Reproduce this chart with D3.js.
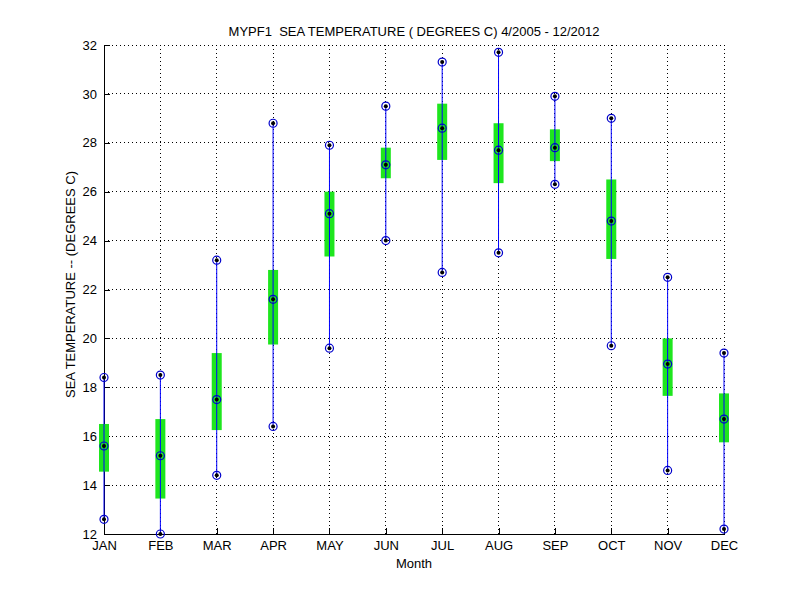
<!DOCTYPE html>
<html><head><meta charset="utf-8">
<script src="https://cdn.jsdelivr.net/npm/d3@7"></script>
<style>body{margin:0;background:#fff}svg{display:block}text{font-family:"Liberation Sans",Arial,sans-serif;white-space:pre;}</style>
</head><body>
<svg id="c" width="800" height="600"></svg>
<script>
const months = ["JAN","FEB","MAR","APR","MAY","JUN","JUL","AUG","SEP","OCT","NOV","DEC"];
const maxVals  = [18.4, 18.5, 23.2, 28.8, 27.9, 29.5, 31.3, 31.7, 29.9, 29.0, 22.5, 19.4];
const boxTop   = [16.5, 16.7, 19.4, 22.8, 26.0, 27.8, 29.6, 28.8, 28.55, 26.5, 20.0, 17.75];
const medians  = [15.6, 15.2, 17.5, 21.6, 25.1, 27.1, 28.6, 27.7, 27.8, 24.8, 18.95, 16.7];
const boxBot   = [14.55, 13.45, 16.25, 19.75, 23.35, 26.55, 27.3, 26.35, 27.25, 23.25, 17.65, 15.75];
const minVals  = [12.6, 12.0, 14.4, 16.4, 19.6, 24.0, 22.7, 23.5, 26.3, 19.7, 14.6, 12.2];
const yTicks = [12,14,16,18,20,22,24,26,28,30,32];

const svg = d3.select("#c");
const L=104, R=724, T=45, B=534;
const x = d3.scaleLinear().domain([1,12]).range([L,R]);
const y = d3.scaleLinear().domain([12,32]).range([B,T]);
const idx = months.map((m,i)=>i+1);
const FS = 13;

// grid
const g = svg.append("g");
g.selectAll(".gx").data(idx).join("line")
  .attr("x1",d=>x(d)).attr("x2",d=>x(d)).attr("y1",T).attr("y2",B)
  .attr("stroke","#000").attr("stroke-width",1).attr("stroke-dasharray","1,3").attr("shape-rendering","crispEdges");
g.selectAll(".gy").data(yTicks).join("line")
  .attr("x1",L).attr("x2",R).attr("y1",d=>y(d)).attr("y2",d=>y(d))
  .attr("stroke","#000").attr("stroke-width",1).attr("stroke-dasharray","1,3").attr("shape-rendering","crispEdges");

// axes
const ya = svg.append("g").attr("transform",`translate(${L},0)`)
  .call(d3.axisLeft(y).tickValues(yTicks).tickSizeInner(-6).tickSizeOuter(0).tickPadding(7));
const xa = svg.append("g").attr("transform",`translate(0,${B})`)
  .call(d3.axisBottom(x).tickValues(idx).tickFormat((d,i)=>months[i]).tickSizeInner(-6).tickSizeOuter(0).tickPadding(4));
[ya,xa].forEach(a=>{
  a.selectAll("text").attr("font-size",FS).attr("fill","#000").attr("font-family","Liberation Sans, Arial, sans-serif");
  a.select(".domain").attr("stroke","#000").attr("shape-rendering","crispEdges");
  a.selectAll(".tick line").attr("stroke","#000").attr("shape-rendering","crispEdges");
});
xa.selectAll("text").attr("dy","0.95em");

// data
const data = idx.map((d,i)=>({m:d,max:maxVals[i],hi:boxTop[i],med:medians[i],lo:boxBot[i],min:minVals[i]}));
const p = svg.append("g");
p.selectAll(".box").data(data).join("rect")
  .attr("x",d=>x(d.m)-5).attr("width",10)
  .attr("y",d=>y(d.hi)).attr("height",d=>y(d.lo)-y(d.hi))
  .attr("fill","#1ee61e");
p.selectAll(".wh").data(data).join("line")
  .attr("x1",d=>x(d.m)).attr("x2",d=>x(d.m))
  .attr("y1",d=>y(d.max)).attr("y2",d=>y(d.min))
  .attr("stroke","#0000ff").attr("stroke-width",1);
const pts = [];
data.forEach(d=>{pts.push({m:d.m,v:d.max});pts.push({m:d.m,v:d.med});pts.push({m:d.m,v:d.min});});
p.selectAll(".ci").data(pts).join("circle")
  .attr("cx",d=>x(d.m)).attr("cy",d=>y(d.v)).attr("r",4)
  .attr("fill","none").attr("stroke","#0000cc").attr("stroke-width",1.2);
p.selectAll(".dt").data(pts).join("circle")
  .attr("cx",d=>x(d.m)).attr("cy",d=>y(d.v)).attr("r",2)
  .attr("fill","#000");

// titles
svg.append("text").attr("x",(L+R)/2).attr("y",36).attr("text-anchor","middle")
  .attr("font-size",FS).attr("xml:space","preserve").text("MYPF1  SEA TEMPERATURE ( DEGREES C) 4/2005 - 12/2012");
svg.append("text").attr("x",(L+R)/2).attr("y",568).attr("text-anchor","middle")
  .attr("font-size",FS).text("Month");
svg.append("text").attr("transform",`translate(75,${(T+B)/2 - 5}) rotate(-90)`).attr("text-anchor","middle")
  .attr("font-size",FS).text("SEA TEMPERATURE -- (DEGREES C)");
</script>
</body></html>
